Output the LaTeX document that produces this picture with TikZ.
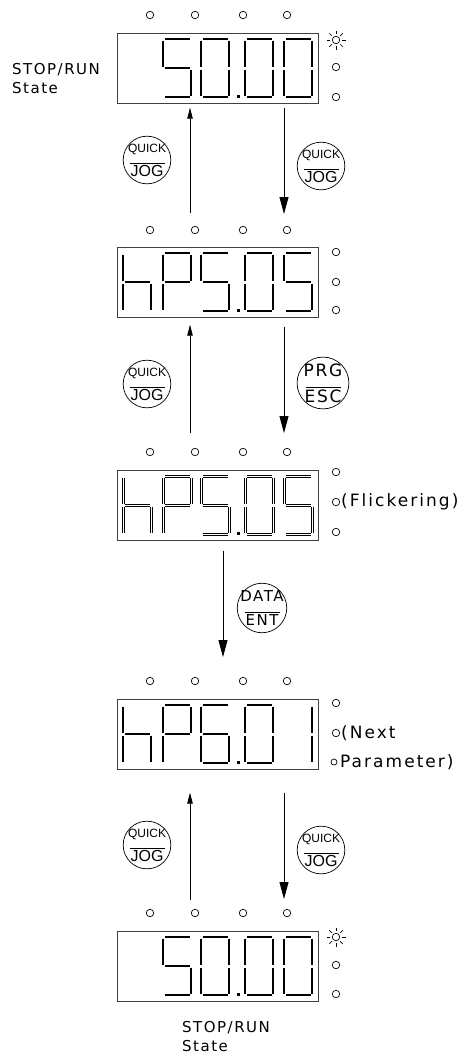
\documentclass[tikz,border=0pt]{standalone}
\usepackage{fontspec}
\usetikzlibrary{arrows.meta,positioning}
\newfontfamily\cadfont[LetterSpace=10]{DejaVu Sans}
\newfontfamily\cadwide[LetterSpace=12]{DejaVu Sans}
\newfontfamily\keyfont{Liberation Sans}
\tikzstyle{disp}=[rectangle,draw=black!75,line width=0.7pt,minimum width=201pt,minimum height=70pt,anchor=north west,inner sep=0pt]
\tikzstyle{seg}=[line width=1.9pt]
\tikzstyle{led}=[circle,draw,line width=0.7pt,minimum size=7.5pt,inner sep=0pt]
\tikzstyle{btn}=[circle,draw,line width=0.7pt,minimum size=47pt,inner sep=0pt,align=center]
\tikzstyle{upar}=[-{Triangle[length=11pt,width=5.5pt]},line width=0.8pt]
\tikzstyle{dnar}=[-{Triangle[length=17pt,width=9pt]},line width=0.8pt]
\tikzstyle{lbl}=[font=\cadfont\fontsize{15}{19}\selectfont,align=left,anchor=west,inner sep=0pt]
\tikzstyle{side}=[lbl,font=\cadwide\fontsize{17}{19}\selectfont]
% seven segments of one digit, box top = 0
\newcommand\sga{\draw[seg] (1.5,6) -- (26.5,6);}
\newcommand\sgb{\draw[seg] (28,7.5) -- (28,33.5);}
\newcommand\sgc{\draw[seg] (28,36.5) -- (28,62.5);}
\newcommand\sgd{\draw[seg] (1.5,64) -- (26.5,64);}
\newcommand\sge{\draw[seg] (0,36.5) -- (0,62.5);}
\newcommand\sgf{\draw[seg] (0,7.5) -- (0,33.5);}
\newcommand\sgg{\draw[seg] (1.5,35) -- (26.5,35);}
\newcommand{\sevseg}[2]{\begin{scope}[xshift=#1pt]\foreach \s in {#2}{\csname sg\s\endcsname}\end{scope}}
\newcommand{\segdot}{\fill (119.5,61.5) rectangle (122.5,64.5);}
\newcommand{\keylbl}[2]{\makebox[30pt]{#1}\\[-1pt]\rule{35pt}{0.6pt}\\[1pt]\makebox[30pt]{#2}}
\newcommand{\quickjog}{\keylbl{\keyfont\fontsize{12}{12}\selectfont QUICK}{\keyfont\fontsize{16}{16}\selectfont JOG}}

\begin{document}
\begin{tikzpicture}[x=1pt,y=-1pt]
\useasboundingbox (0,0) rectangle (463,1055);
% displays
\node[disp] (d1) at (117,33) {};
\node[disp] (d2) at (117,247) {};
\node[disp] (d3) at (117,470) {};
\node[disp] (d4) at (117,699) {};
\node[disp] (d5) at (117,931) {};

% digits
\begin{scope}[shift={(d1.north west)}]
\sevseg{46}{a,f,g,c,d} \sevseg{84}{a,b,c,d,e,f} \segdot
\sevseg{128}{a,b,c,d,e,f} \sevseg{167}{a,b,c,d,e,f}
\end{scope}
\begin{scope}[shift={(d2.north west)}]
\sevseg{6}{f,e,g,c} \sevseg{46}{a,b,f,g,e} \sevseg{84}{a,f,g,c,d} \segdot
\sevseg{128}{a,b,c,d,e,f} \sevseg{167}{a,f,g,c,d}
\end{scope}
\begin{scope}[shift={(d3.north west)},seg/.style={line width=1pt,double=white,double distance=1pt}]
\sevseg{6}{f,e,g,c} \sevseg{46}{a,b,f,g,e} \sevseg{84}{a,f,g,c,d} \segdot
\sevseg{128}{a,b,c,d,e,f} \sevseg{167}{a,f,g,c,d}
\end{scope}
\begin{scope}[shift={(d4.north west)}]
\sevseg{6}{f,e,g,c} \sevseg{46}{a,b,f,g,e} \sevseg{84}{a,f,g,e,c,d} \segdot
\sevseg{128}{a,b,c,d,e,f} \sevseg{167}{b,c}
\end{scope}
\begin{scope}[shift={(d5.north west)}]
\sevseg{46}{a,f,g,c,d} \sevseg{84}{a,b,c,d,e,f} \segdot
\sevseg{128}{a,b,c,d,e,f} \sevseg{167}{a,b,c,d,e,f}
\end{scope}

% LEDs above each display
\foreach \d/\y in {1/15,2/230,3/452,4/681,5/913}
  \foreach \x in {150,195,243,287}
    \node[led] (t\d-\x) at (\x,\y) {};

% LEDs right of each display
\node[led] (sun1) at (336,40) {};
\node[led] (r1b) at (336,67) {};
\node[led] (r1c) at (336,97) {};
\node[led] (r2a) at (336,252) {};
\node[led] (r2b) at (336,282) {};
\node[led] (r2c) at (336,310) {};
\node[led] (r3a) at (336,472) {};
\node[led] (r3b) at (336,502) {};
\node[led] (r3c) at (336,532) {};
\node[led] (r4a) at (336,703) {};
\node[led] (r4b) at (336,733) {};
\node[led,minimum size=6pt] (r4c) at (334,762) {};
\node[led] (sun5) at (336,937) {};
\node[led] (r5b) at (336,965) {};
\node[led] (r5c) at (336,994) {};
\foreach \n in {sun1,sun5}
  \foreach \a in {0,45,...,315}
    \draw[line width=0.7pt] (\n.center) ++(\a:6pt) -- ++(\a:3.5pt);

% labels
\node[lbl] (st1) at (12,79) {STOP/RUN\\State};
\node[lbl] (st5) at (182,1037) {STOP/RUN\\State};
\node[side] (fl) at (341,502) {(Flickering)};
\node[side] (nx) at (341,733) {(Next};
\node[side] (pa) at (340,762) {Parameter)};

% keys
\node[btn] (k1) at (147,160) {\quickjog};
\node[btn] (k2) at (321,166) {\quickjog};
\node[btn] (k3) at (147,384) {\quickjog};
\node[btn] (k4) at (323,383) {\keylbl{\cadfont\fontsize{17}{17}\selectfont PRG}{\cadfont\fontsize{17}{17}\selectfont ESC}};
\node[btn] (k5) at (262,608) {\keylbl{\cadfont\fontsize{15}{15}\selectfont DATA}{\cadfont\fontsize{15}{15}\selectfont ENT}};
\node[btn] (k6) at (147,845) {\quickjog};
\node[btn] (k7) at (321,850) {\quickjog};

% connectors
\coordinate (xl) at (190,0);
\coordinate (xr) at (284,0);
\coordinate (xm) at (223,0);
\draw[upar,shorten <=34pt,shorten >=4pt] (d2.north -| xl) -- (d1.south -| xl);
\draw[dnar,shorten <=4pt,shorten >=33pt] (d1.south -| xr) -- (d2.north -| xr);
\draw[upar,shorten <=37pt,shorten >=7pt] (d3.north -| xl) -- (d2.south -| xl);
\draw[dnar,shorten <=9pt,shorten >=37pt] (d2.south -| xr) -- (d3.north -| xr);
\draw[dnar,shorten <=10pt,shorten >=42pt] (d3.south -| xm) -- (d4.north -| xm);
\draw[upar,shorten <=31pt,shorten >=23pt] (d5.north -| xl) -- (d4.south -| xl);
\draw[dnar,shorten <=23pt,shorten >=32pt] (d4.south -| xr) -- (d5.north -| xr);
\end{tikzpicture}
\end{document}
